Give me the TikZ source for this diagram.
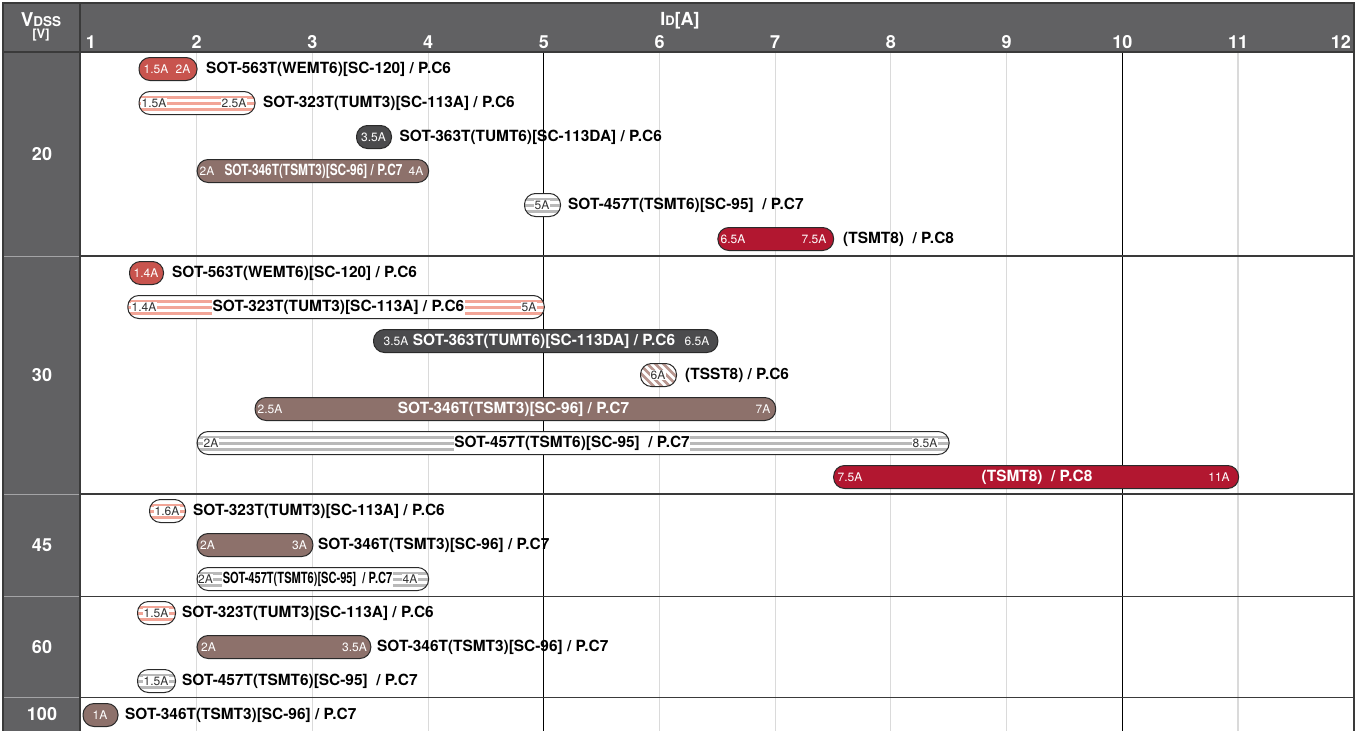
\documentclass[tikz,border=0pt]{standalone}
\usepackage{fontspec}
\setmainfont{TeX Gyre Heros}
\definecolor{hdr}{HTML}{616163}
\definecolor{redA}{HTML}{C8544E}
\definecolor{darkA}{HTML}{4B4B4D}
\definecolor{brownA}{HTML}{8D716B}
\definecolor{crimA}{HTML}{B21730}
\definecolor{spink}{HTML}{F2A597}
\definecolor{sgray}{HTML}{B9B9B9}
\definecolor{sbrown}{HTML}{B8968F}
\definecolor{barline}{HTML}{2A2A2A}
\definecolor{gridl}{HTML}{DADADA}
\definecolor{sepd}{HTML}{3A3A3A}
\definecolor{sepl}{HTML}{A4A4A6}
\definecolor{txtd}{HTML}{333333}
\tikzset{
  bar/.style={draw=barline, line width=1pt, rounded corners=11pt, minimum height=23pt, inner sep=0pt, anchor=west},
  pinkbar/.style={bar, fill=white, path picture={
     \foreach \dy in {-6,0,6}{\draw[spink, line width=3pt] ([yshift=\dy pt]path picture bounding box.west) -- ([yshift=\dy pt]path picture bounding box.east);}}},
  graybar/.style={bar, fill=white, path picture={
     \foreach \dy in {-6,0,6}{\draw[sgray, line width=3pt] ([yshift=\dy pt]path picture bounding box.west) -- ([yshift=\dy pt]path picture bounding box.east);}}},
  diagbar/.style={bar, fill=white, path picture={
     \foreach \dx in {-40,-32,...,40}{\draw[sbrown, line width=2.8pt] ([xshift=\dx pt]path picture bounding box.center) ++(-16pt,16pt) -- ++(32pt,-32pt);}}},
  num/.style={font=\fontsize{12}{12}\selectfont, text=white, inner sep=0pt},
  numd/.style={font=\fontsize{12}{12}\selectfont, text=txtd, fill=white, inner sep=0.6pt},
  lbl/.style={font=\fontsize{15.4}{16}\selectfont\bfseries, text=black, anchor=west, inner sep=0pt},
  lblin/.style={font=\fontsize{15.4}{16}\selectfont\bfseries, text=white, inner sep=0pt},
  lblhalo/.style={font=\fontsize{15.4}{16}\selectfont\bfseries, text=black, fill=white, inner sep=0.6pt},
  tick/.style={font=\fontsize{18}{18}\selectfont\bfseries, text=white, inner sep=0pt},
  rowlbl/.style={font=\fontsize{18}{18}\selectfont\bfseries, text=white, inner sep=0pt},
}
\begin{document}
\begin{tikzpicture}[x=1pt,y=-1pt]
\useasboundingbox (0,0) rectangle (1358,731);
\fill[white] (0,0) rectangle (1358,731);
% header and left column
\fill[hdr] (3,3) rectangle (1354,52);
\fill[hdr] (3,52) rectangle (80,731);
% grid
\foreach \v in {2,3,4,6,7,8,9,11}{\draw[gridl, line width=1.1pt] ({81+(\v-1)*115.7},52) -- ({81+(\v-1)*115.7},731);}
\foreach \v in {5,10}{\draw[black, line width=1pt] ({81+(\v-1)*115.7},52) -- ({81+(\v-1)*115.7},731);}
% separators
\foreach \yy in {256,494,596.5,697.5}{\draw[sepd, line width=1.4pt] (80,\yy) -- (1354,\yy); \draw[sepl, line width=1pt] (3,\yy) -- (80,\yy);}
\draw[sepd, line width=1.4pt] (3,52) -- (1354,52);
\draw[sepd, line width=1.4pt] (80,3) -- (80,731);
\draw[sepd, line width=1.4pt] (3,731) -- (3,3) -- (1354,3) -- (1354,731);

% header texts
\node[font=\bfseries, text=white, inner sep=0pt] (vdss) at (41,20) {\fontsize{19}{19}\selectfont V\fontsize{13.5}{13.5}\selectfont DSS};
\node[font=\bfseries, text=white, inner sep=0pt] (vunit) at (41,35.5) {\fontsize{13}{13}\selectfont [V]};
\node[font=\bfseries, text=white, inner sep=0pt] (ida) at (680,21) {\fontsize{18}{18}\selectfont I\fontsize{13}{13}\selectfont D\fontsize{18}{18}\selectfont [A]};
\node[tick] (t1) at (91,42) {1};
\foreach \v in {2,...,11}{\node[tick] (t\v) at ({81+(\v-1)*115.7},42) {\v};}
\node[tick, anchor=east] (t12) at (1351,42) {12};

% row labels
\node[rowlbl] (r20) at (42,154) {20};
\node[rowlbl] (r30) at (42,375) {30};
\node[rowlbl] (r45) at (42,545) {45};
\node[rowlbl] (r60) at (42,647) {60};
\node[rowlbl] (r100) at (42,714.5) {100};

% ===== 20 V =====
\node[bar, fill=redA, minimum width=58pt] (b1) at (138.5,69) {};
\node[num] (b1a) at (156,69) {1.5A};
\node[num] (b1b) at (183,69) {2A};
\node[lbl] (l1) at (206,69) {SOT-563T(WEMT6)[SC-120] / P.C6};

\node[pinkbar, minimum width=116pt] (b2) at (138.5,103) {};
\node[numd] (b2a) at (154,103) {1.5A};
\node[numd] (b2b) at (234,103) {2.5A};
\node[lbl] (l2) at (263,103) {SOT-323T(TUMT3)[SC-113A] / P.C6};

\node[bar, fill=darkA, minimum width=35pt] (b3) at (356,137) {};
\node[num] (b3a) at (373.5,137) {3.5A};
\node[lbl] (l3) at (399.5,137) {SOT-363T(TUMT6)[SC-113DA] / P.C6};

\node[bar, fill=brownA, minimum width=231.4pt] (b4) at (196.7,171) {};
\node[num] (b4a) at (207,171) {2A};
\node[lblin] (b4c) at (313.5,171) {\scalebox{0.77}[1]{SOT-346T(TSMT3)[SC-96] / P.C7}};
\node[num] (b4b) at (416,171) {4A};

\node[graybar, minimum width=36pt] (b5) at (524,205) {};
\node[numd] (b5a) at (542,205) {5A};
\node[lbl] (l5) at (568,205) {SOT-457T(TSMT6)[SC-95]~~/ P.C7};

\node[bar, fill=crimA, minimum width=115.7pt] (b6) at (717.4,239) {};
\node[num] (b6a) at (733,239) {6.5A};
\node[num] (b6b) at (814,239) {7.5A};
\node[lbl] (l6) at (843,239) {(TSMT8)~~/ P.C8};

% ===== 30 V =====
\node[bar, fill=redA, minimum width=34pt] (c1) at (129,273) {};
\node[num] (c1a) at (146,273) {1.4A};
\node[lbl] (m1) at (172,273) {SOT-563T(WEMT6)[SC-120] / P.C6};

\node[pinkbar, minimum width=416.5pt] (c2) at (127.3,307) {};
\node[numd] (c2a) at (144,307) {1.4A};
\node[lblhalo] (c2c) at (338.5,307) {SOT-323T(TUMT3)[SC-113A] / P.C6};
\node[numd] (c2b) at (529,307) {5A};

\node[bar, fill=darkA, minimum width=344.4pt] (c3) at (373,341) {};
\node[num] (c3a) at (396,341) {3.5A};
\node[lblin] (c3c) at (544,341) {SOT-363T(TUMT6)[SC-113DA] / P.C6};
\node[num] (c3b) at (697,341) {6.5A};

\node[diagbar, minimum width=36pt] (c4) at (640,375) {};
\node[numd] (c4a) at (658,375) {6A};
\node[lbl] (m4) at (685,375) {(TSST8) / P.C6};

\node[bar, fill=brownA, minimum width=520.6pt] (c5) at (254.6,409) {};
\node[num] (c5a) at (270,409) {2.5A};
\node[lblin] (c5c) at (513.5,409) {SOT-346T(TSMT3)[SC-96] / P.C7};
\node[num] (c5b) at (763,409) {7A};

\node[graybar, minimum width=751.9pt] (c6) at (196.7,443) {};
\node[numd] (c6a) at (211,443) {2A};
\node[lblhalo] (c6c) at (572,443) {SOT-457T(TSMT6)[SC-95]~~/ P.C7};
\node[numd] (c6b) at (925,443) {8.5A};

\node[bar, fill=crimA, minimum width=405pt] (c7) at (833.1,477) {};
\node[num] (c7a) at (850,477) {7.5A};
\node[lblin] (c7c) at (1037,477) {(TSMT8)~~/ P.C8};
\node[num] (c7b) at (1219,477) {11A};

% ===== 45 V =====
\node[pinkbar, minimum width=36pt] (d1) at (149,511) {};
\node[numd] (d1a) at (167,511) {1.6A};
\node[lbl] (n1) at (193,511) {SOT-323T(TUMT3)[SC-113A] / P.C6};

\node[bar, fill=brownA, minimum width=115.7pt] (d2) at (196.7,545) {};
\node[num] (d2a) at (207.5,545) {2A};
\node[num] (d2b) at (299.5,545) {3A};
\node[lbl] (n2) at (318,545) {SOT-346T(TSMT3)[SC-96] / P.C7};

\node[graybar, minimum width=231.4pt] (d3) at (196.7,579) {};
\node[numd] (d3a) at (205.5,579) {2A};
\node[lblhalo] (d3c) at (307.5,579) {\scalebox{0.72}[1]{SOT-457T(TSMT6)[SC-95]~~/ P.C7}};
\node[numd] (d3b) at (410,579) {4A};

% ===== 60 V =====
\node[pinkbar, minimum width=38pt] (e1) at (137,613) {};
\node[numd] (e1a) at (156,613) {1.5A};
\node[lbl] (o1) at (182,613) {SOT-323T(TUMT3)[SC-113A] / P.C6};

\node[bar, fill=brownA, minimum width=173.6pt] (e2) at (196.7,647) {};
\node[num] (e2a) at (208.5,647) {2A};
\node[num] (e2b) at (354.5,647) {3.5A};
\node[lbl] (o2) at (377,647) {SOT-346T(TSMT3)[SC-96] / P.C7};

\node[graybar, minimum width=38pt] (e3) at (137,681) {};
\node[numd] (e3a) at (156,681) {1.5A};
\node[lbl] (o3) at (182,681) {SOT-457T(TSMT6)[SC-95]~~/ P.C7};

% ===== 100 V =====
\node[bar, fill=brownA, minimum width=35pt] (f1) at (82.5,715) {};
\node[num] (f1a) at (100,715) {1A};
\node[lbl] (p1) at (125,715) {SOT-346T(TSMT3)[SC-96] / P.C7};
\end{tikzpicture}
\end{document}
